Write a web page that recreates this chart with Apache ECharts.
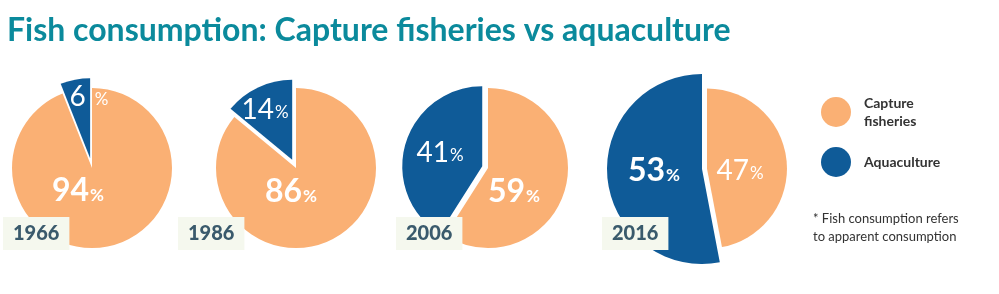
<!DOCTYPE html>
<html>
<head>
<meta charset="utf-8">
<script src="https://cdn.jsdelivr.net/npm/echarts@6/dist/echarts.min.js"></script>
<style>
  html, body { margin: 0; padding: 0; background: #fff; }
  #chart { width: 999px; height: 294px; }
</style>
</head>
<body>
<div id="chart"></div>
<script>
// data
let years = ['1966', '1986', '2006', '2016'];
let captureShare = [94, 86, 59, 47];
let aquaShare = [6, 14, 41, 53];
let categories = ['Capture fisheries', 'Aquaculture'];

// layout (pixels)
let pieCenters = [[92, 168], [296, 168], [488, 168], [702, 169]];
let captureRadius = [80, 80, 80, 80];
let aquaRadius = [80, 80, 80, 95];
let captureOffset = [0, 0, 0, 5];
let aquaOffset = [10, 9, 6, 0];
let captureLabelPos = [[78, 190], [291, 191], [514, 191], [740, 170]];
let aquaLabelPos = [[89, 96], [265, 109], [440, 152], [654, 170]];
let yearBoxLeft = [3, 178, 396, 602];

const ORANGE = '#fab074';
const BLUE = '#0f5b98';
const FONT = 'Lato';

var myChart = echarts.init(document.getElementById('chart'));

const rich = {
    b: { fontFamily: FONT, fontWeight: 'bold', fontSize: 28, color: '#fff', lineHeight: 30, verticalAlign: 'bottom' },
    bb: { fontFamily: FONT, fontWeight: 'bold', fontSize: 32, color: '#fff', lineHeight: 34, verticalAlign: 'bottom' },
    bp: { fontFamily: FONT, fontWeight: 'bold', fontSize: 17, color: '#fff', lineHeight: 20, verticalAlign: 'bottom', padding: [0, 0, 3, 1] },
    t: { fontFamily: FONT, fontWeight: 'normal', fontSize: 28, color: '#fff', lineHeight: 30, verticalAlign: 'bottom' },
    tp: { fontFamily: FONT, fontWeight: 'normal', fontSize: 17, color: '#fff', lineHeight: 20, verticalAlign: 'bottom', padding: [0, 0, 3, 1] },
    tw: { fontFamily: FONT, fontWeight: 'normal', fontSize: 17, color: '#fff', lineHeight: 20, verticalAlign: 'bottom', padding: [0, 0, 3, 9] }
};

function labelText(v) {
    if (v > 50) {
        return (v >= 53 ? '{bb|' : '{b|') + v + '}{bp|%}';
    }
    if (v < 10) return '{t|' + v + '}{tw|%}';
    return '{t|' + v + '}{tp|%}';
}

// one pie series per slice so each slice can have its own radius / offset
function sliceSeries(i, k) {
    const vals = [captureShare[i], aquaShare[i]];
    const total = vals[0] + vals[1];
    const colors = [ORANGE, BLUE];
    const off = k === 0 ? captureOffset[i] : aquaOffset[i];
    const pos = k === 0 ? captureLabelPos[i] : aquaLabelPos[i];
    // pull the slice out along its bisector (clockwise from 12 o'clock)
    const startFrac = k === 0 ? 0 : vals[0] / total;
    const mid = (startFrac + vals[k] / total / 2) * 2 * Math.PI;
    const c = [pieCenters[i][0] + off * Math.sin(mid), pieCenters[i][1] - off * Math.cos(mid)];
    return {
        type: 'pie',
        center: c,
        radius: [0, k === 0 ? captureRadius[i] : aquaRadius[i]],
        startAngle: 90,
        clockwise: true,
        silent: true,
        animation: false,
        labelLine: { show: false },
        label: { position: 'inside', formatter: p => labelText(p.value), rich: rich },
        labelLayout: () => ({ x: pos[0], y: pos[1] }),
        data: categories.map((name, j) => ({
            name: name,
            value: vals[j],
            itemStyle: { color: j === k ? colors[j] : 'rgba(0,0,0,0)' },
            label: { show: j === k }
        }))
    };
}

let series = [];
years.forEach((y, i) => {
    series.push(sliceSeries(i, 0));
    series.push(sliceSeries(i, 1));
});

let titles = [
    {
        text: 'Fish consumption: Capture fisheries vs aquaculture',
        left: 7, top: 15, padding: 0,
        textStyle: { fontFamily: FONT, fontWeight: 'bold', fontSize: 32, color: '#0b8a9c' }
    },
    {
        text: '* Fish consumption refers\nto apparent consumption',
        left: 813, top: 210, padding: 0,
        textStyle: { fontFamily: FONT, fontWeight: 'normal', fontSize: 13, lineHeight: 18, color: '#333' }
    }
];
years.forEach((y, i) => {
    titles.push({
        text: y,
        left: yearBoxLeft[i], top: 217,
        padding: [6, 10, 6, 10],
        backgroundColor: '#f5f8ee',
        textStyle: { fontFamily: FONT, fontWeight: 900, fontSize: 20, lineHeight: 21, color: '#3a5a6c' }
    });
});

var option = {
    backgroundColor: '#fff',
    animation: false,
    title: titles,
    legend: {
        orient: 'vertical',
        left: 816, top: 89,
        icon: 'circle',
        itemWidth: 30, itemHeight: 30,
        itemGap: 17,
        selectedMode: false,
        data: [
            { name: 'Capture fisheries', itemStyle: { color: ORANGE } },
            { name: 'Aquaculture', itemStyle: { color: BLUE } }
        ],
        formatter: n => n.replace(' ', '\n'),
        textStyle: { fontFamily: FONT, fontWeight: 'bold', fontSize: 14, lineHeight: 18, color: '#333', padding: [0, 0, 0, 8] }
    },
    series: series
};

myChart.setOption(option);
</script>
</body>
</html>
